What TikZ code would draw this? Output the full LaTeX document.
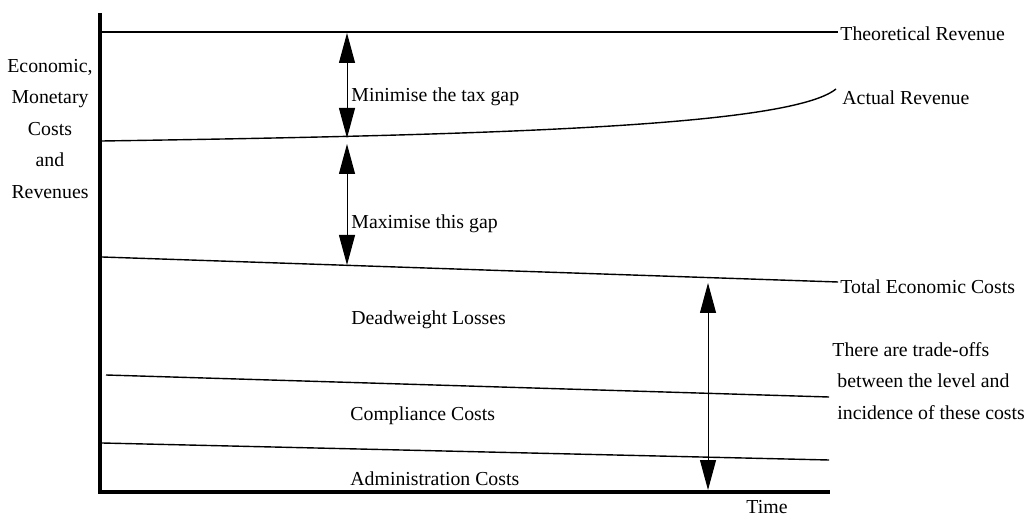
\documentclass[tikz,border=0pt]{standalone}
\usepackage{fontspec}
\setmainfont{Liberation Serif}
\usetikzlibrary{arrows.meta, positioning}

\begin{document}
\begin{tikzpicture}[x=0.5pt,y=-0.5pt,
        every node/.style={font=\fontsize{9.9}{15.75}\selectfont, inner sep=0pt},
        level/.style={line width=0.7pt},
        axis/.style={line width=2pt, line join=miter},
        gap/.style={line width=0.5pt, {Triangle[length=15pt,width=8pt]}-{Triangle[length=15pt,width=8pt]}}]
    \useasboundingbox (0,0) rectangle (1036,517);

    % axes
    \coordinate (o) at (100,492);
    \coordinate (top) at (100,13);
    \coordinate (tend) at (830,492);
    \draw[axis] (top) -- (o) -- (tend);

    % the levels
    \coordinate (tr-l) at (102,32);   \coordinate (tr-r) at (838,32);
    \coordinate (ar-l) at (102,141);  \coordinate (ar-r) at (836,89);
    \coordinate (tc-l) at (102,257);  \coordinate (tc-r) at (838,282);
    \coordinate (cc-l) at (106,375);  \coordinate (cc-r) at (829,397);
    \coordinate (ac-l) at (102,443);  \coordinate (ac-r) at (829,460);
    \draw[level] (tr-l) -- (tr-r);
    \draw[level] (ar-l) .. controls (500,135) and (790,126) .. (ar-r);
    \draw[level] (tc-l) -- (tc-r);
    \draw[level] (cc-l) -- (cc-r);
    \draw[level] (ac-l) -- (ac-r);

    \node[anchor=west] (tr) at (840,34) {Theoretical Revenue};
    \node[anchor=west] (ar) at (842,98) {Actual Revenue};
    \node[anchor=west] (tc) at (840,287) {Total Economic Costs};

    \node[align=center] (ylab) at (50,129) {Economic,\\Monetary\\Costs\\and\\Revenues};
    \node (time) at (767,507) {Time};

    % gaps
    \coordinate (g1-t) at (347,33);
    \coordinate (g1-b) at (347,138);
    \coordinate (g2-t) at (347,144);
    \coordinate (g2-b) at (347,265);
    \coordinate (g3-t) at (708,283);
    \coordinate (g3-b) at (708,490);
    \path[gap]
        (g1-t) edge (g1-b)
        (g2-t) edge (g2-b)
        (g3-t) edge (g3-b);

    \node[anchor=west] (minim) at (351,97) {Minimise the tax gap};
    \node[anchor=west] (maxim) at (351,224) {Maximise this gap};
    \node[anchor=west] (dwl) at (351,320) {Deadweight Losses};
    \node[anchor=west] (comp) at (350,416) {Compliance Costs};
    \node[anchor=west] (admin) at (350,479) {Administration Costs};
    \node[anchor=west, align=left] (trade) at (832,381)
        {There are trade-offs\\\ between the level and\\\ incidence of these costs};
\end{tikzpicture}
\end{document}
